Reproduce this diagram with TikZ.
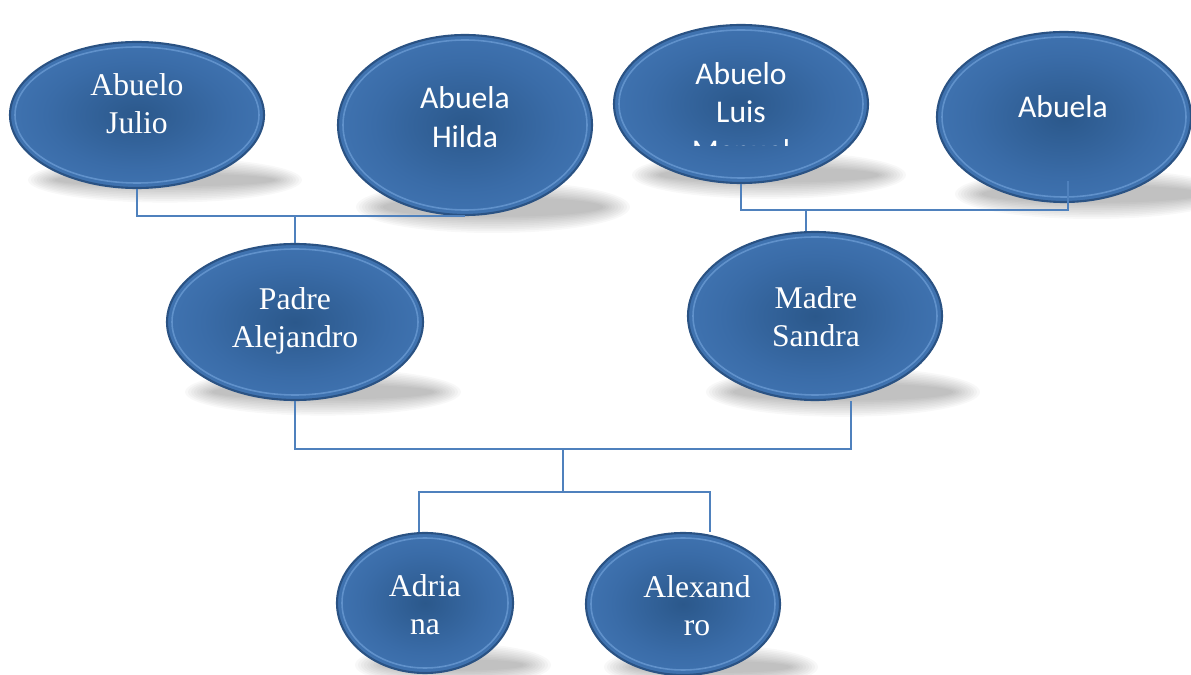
\documentclass[tikz,border=0pt]{standalone}
\usepackage{fontspec}
\setmainfont{Liberation Serif}
\newfontfamily\calibfont{Carlito}
\usetikzlibrary{shapes.geometric}
\definecolor{linec}{HTML}{4F81BD}
\definecolor{bubin}{HTML}{2B588B}
\definecolor{bubmid}{HTML}{3A6CA8}
\definecolor{bubout}{HTML}{4A80C0}
\definecolor{rimdark}{HTML}{2A5283}
\definecolor{rimlight}{HTML}{6C9DD5}
\pgfdeclareradialshading{bubshade}{\pgfpoint{0bp}{0bp}}{color(0bp)=(bubin); color(18bp)=(bubmid); color(40bp)=(bubout); color(46bp)=(bubout); color(50bp)=(rimdark)}
\def\px{0.02cm}
\tikzset{
  bub/.style={ellipse, shading=bubshade, draw=rimdark, line width=1.2pt, inner sep=0pt},
  conn/.style={draw=linec, line width=1.1pt},
  serif/.style={text=white, align=center, font=\fontsize{18}{21.6}\selectfont},
  sans/.style={text=white, align=center, font=\calibfont\fontsize{18}{22}\selectfont},
}
\newcommand\shadowof[4]{%
  \foreach \k in {0,...,9}{\fill[black,opacity=0.026] ({#1+28},{#2+#4-8}) ellipse [x radius={#3+10-3*\k}, y radius={0.2*#4+8-1.8*\k}];}}
\newcommand\bubble[5]{%
  \node[bub, minimum width={2*#4*\px}, minimum height={2*#5*\px}] (#1) at (#2,#3) {};
  \draw[rimlight, line width=0.9pt, opacity=0.75] (#2,#3) ellipse [x radius={#4-5}, y radius={#5-5}];}
\begin{document}
\begin{tikzpicture}[x=0.02cm, y=-0.02cm]
\useasboundingbox (0,0) rectangle (1191,675);
% shadows
\shadowof{137}{115}{127}{73}
\shadowof{465}{125}{127}{90}
\shadowof{741}{104}{127}{79}
\shadowof{1064}{117}{127}{85}
\shadowof{295}{322}{128}{78}
\shadowof{815}{316}{127}{84}
\shadowof{425}{603}{88}{70}
\shadowof{683}{604}{97}{71}
% bubbles
\bubble{jul}{137}{115}{127}{73}
\bubble{hil}{465}{125}{127}{90}
\bubble{lui}{741}{104}{127}{79}
\bubble{abu}{1064}{117}{127}{85}
\bubble{pad}{295}{322}{128}{78}
\bubble{mad}{815}{316}{127}{84}
\bubble{adr}{425}{603}{88}{70}
\bubble{alx}{683}{604}{97}{71}
% texts
\node[serif] (jult) at (137,104) {Abuelo\\Julio};
\node[sans] (hilt) at (465,117) {Abuela\\Hilda};
\begin{scope}
  \clip (600,30) rectangle (880,146);
  \node[sans] (luit) at (741,112) {Abuelo\\Luis\\Manuel};
\end{scope}
\node[sans] (abut) at (1063,107) {Abuela};
\node[serif] (padt) at (295,321) {Padre\\Alejandro};
\node[serif] (madt) at (816,317) {Madre\\Sandra};
\node[serif] (adrt) at (425,605) {Adria\\na};
\node[serif] (alxt) at (697,606) {Alexand\\ro};
% connectors
\draw[conn] (jul.south) |- (hil.south);
\draw[conn] (pad.north) -- (pad.north |- hil.south);
\coordinate (gpR) at (806,210);
\draw[conn] (lui.south) |- (gpR) -| ([shift={(4,-22)}]abu.south);
\draw[conn] (gpR) -- (gpR |- mad.north);
\coordinate (par) at (563,449);
\draw[conn] (pad.south) |- (par) -| ([shift={(36,0)}]mad.south);
\coordinate (kidL) at (419,492);
\coordinate (kidR) at (710,492);
\draw[conn] (par) -- (par |- kidL);
\draw[conn] (kidL |- adr.north) -- (kidL) -- (kidR) -- (kidR |- alx.north);
\end{tikzpicture}
\end{document}
